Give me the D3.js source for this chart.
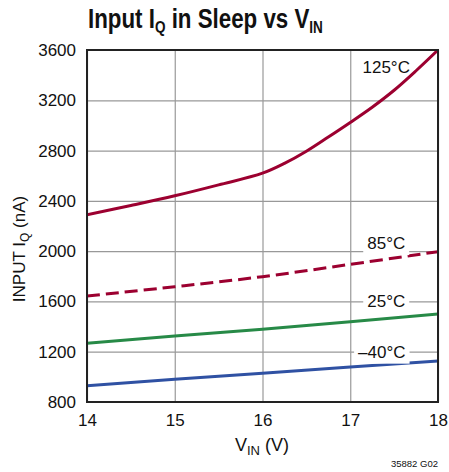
<!DOCTYPE html>
<html>
<head>
<meta charset="utf-8">
<script src="https://cdn.jsdelivr.net/npm/d3@7"></script>
<style>
  body { margin: 0; background: #fff; }
  svg text { font-family: "Liberation Sans", Arial, sans-serif; fill: #111; }
</style>
</head>
<body>
<div id="viz"></div>
<script>
// supply voltage (V)
const vin = [14, 14.5, 15, 15.5, 16, 16.25, 16.5, 16.75, 17, 17.25, 17.5, 17.75, 18];
const vinLin = [14, 15, 16, 17, 18];

// input current in sleep (nA)
const iq125 = [2290, 2363, 2440, 2527, 2620, 2698, 2795, 2908, 3024, 3145, 3280, 3435, 3600];
const iq85 = [1643, 1717, 1797, 1895, 1996];
const iq25 = [1267, 1325, 1378, 1439, 1500];
const iqM40 = [930, 980, 1028, 1078, 1126];

const xTicks = [14, 15, 16, 17, 18];
const yTicks = [800, 1200, 1600, 2000, 2400, 2800, 3200, 3600];

let margin = { top: 50, right: 11, bottom: 70, left: 87 };
let width = 449 - margin.left - margin.right;
let height = 472 - margin.top - margin.bottom;

let root = d3.select("#viz").append("svg")
  .attr("width", 449)
  .attr("height", 472);

let svg = root.append("g")
  .attr("transform", `translate(${margin.left},${margin.top})`);

let xScale = d3.scaleLinear().domain([14, 18]).range([0, width]);
let yScale = d3.scaleLinear().domain([800, 3600]).range([height, 0]);

// grid
svg.append("g")
  .call(d3.axisBottom(xScale).tickValues(xTicks).tickSize(height).tickFormat(""))
  .call(g => g.select(".domain").remove())
  .selectAll("line").attr("stroke", "#999").attr("stroke-width", 1.2);

svg.append("g")
  .call(d3.axisLeft(yScale).tickValues(yTicks).tickSize(-width).tickFormat(""))
  .call(g => g.select(".domain").remove())
  .selectAll("line").attr("stroke", "#999").attr("stroke-width", 1.2);

// tick labels
svg.append("g")
  .attr("transform", `translate(0,${height})`)
  .call(d3.axisBottom(xScale).tickValues(xTicks).tickSize(0).tickPadding(12).tickFormat(d3.format("d")))
  .call(g => g.select(".domain").remove())
  .selectAll("text").style("font-size", "17px").attr("fill", "#111");

svg.append("g")
  .call(d3.axisLeft(yScale).tickValues(yTicks).tickSize(0).tickPadding(11).tickFormat(d3.format("d")))
  .call(g => g.select(".domain").remove())
  .selectAll("text").style("font-size", "17px").attr("fill", "#111");

let line = d3.line()
  .x(d => xScale(d[0]))
  .y(d => yScale(d[1]));

let curve = d3.line()
  .x(d => xScale(d[0]))
  .y(d => yScale(d[1]))
  .curve(d3.curveCatmullRom);

// series
svg.append("clipPath").attr("id", "clip")
  .append("rect").attr("width", width).attr("height", height);

let plot = svg.append("g").attr("clip-path", "url(#clip)");

// labels first so the curves draw over their boxes
const labels = [
  { t: "125°C", v: 3467, x: 17.41, box: false, dy: 0.35 },
  { t: "85°C", v: 2000, x: 17.41, box: true, dy: -0.12 },
  { t: "25°C", v: 1600, x: 17.41, box: true, dy: 0.35 },
  { t: "\u201340°C", v: 1200, x: 17.36, box: true, dy: 0.35 }
];

labels.forEach(l => {
  let g = svg.append("g");
  let txt = g.append("text")
    .attr("x", xScale(l.x))
    .attr("y", yScale(l.v))
    .attr("dy", l.dy + "em")
    .attr("text-anchor", "middle")
    .style("font-size", "17px")
    .text(l.t);
  let bb = txt.node().getBBox();
  if (l.box) {
    g.insert("rect", "text")
      .attr("x", bb.x - 4).attr("y", bb.y)
      .attr("width", bb.width + 8).attr("height", bb.height + 2)
      .attr("fill", "#fff");
  }
});

plot.append("path")
  .datum(d3.zip(vinLin, iqM40))
  .attr("fill", "none").attr("stroke", "#2f51a3").attr("stroke-width", 3)
  .attr("d", line);

plot.append("path")
  .datum(d3.zip(vinLin, iq25))
  .attr("fill", "none").attr("stroke", "#278a47").attr("stroke-width", 3)
  .attr("d", line);

plot.append("path")
  .datum(d3.zip(vinLin, iq85))
  .attr("fill", "none").attr("stroke", "#9c0030").attr("stroke-width", 3)
  .attr("stroke-dasharray", "13,6")
  .attr("d", curve);

plot.append("path")
  .datum(d3.zip(vin, iq125))
  .attr("fill", "none").attr("stroke", "#9c0030").attr("stroke-width", 3)
  .attr("d", curve);

// frame
svg.append("rect")
  .attr("width", width).attr("height", height)
  .attr("fill", "none").attr("stroke", "#222").attr("stroke-width", 2);

// title, squeezed to the condensed width of the original
let title = root.append("text")
  .attr("x", 0).attr("y", 0)
  .style("font-size", "28px").style("font-weight", "bold").attr("fill", "#222");
title.append("tspan").text("Input I");
title.append("tspan").attr("dy", 5).style("font-size", "17px").text("Q");
title.append("tspan").attr("dy", -5).text(" in Sleep vs V");
title.append("tspan").attr("dy", 5).style("font-size", "17px").text("IN");
let tw = title.node().getBBox().width;
title.attr("transform", `translate(88,28) scale(${235 / tw},1)`);

// x-axis title
let xt = root.append("text")
  .attr("x", 262).attr("y", 451)
  .attr("text-anchor", "middle")
  .style("font-size", "18px");
xt.append("tspan").text("V");
xt.append("tspan").attr("dy", 4).style("font-size", "13px").text("IN");
xt.append("tspan").attr("dy", -4).text(" (V)");

// y-axis title
let yt = root.append("text")
  .attr("transform", `translate(25,249) rotate(-90)`)
  .attr("text-anchor", "middle")
  .style("font-size", "17px");
yt.append("tspan").text("INPUT I");
yt.append("tspan").attr("dy", 4).style("font-size", "12px").text("Q");
yt.append("tspan").attr("dy", -4).text(" (nA)");

root.append("text")
  .attr("x", 438).attr("y", 467)
  .attr("text-anchor", "end")
  .style("font-size", "9.5px")
  .text("35882 G02");
</script>
</body>
</html>
